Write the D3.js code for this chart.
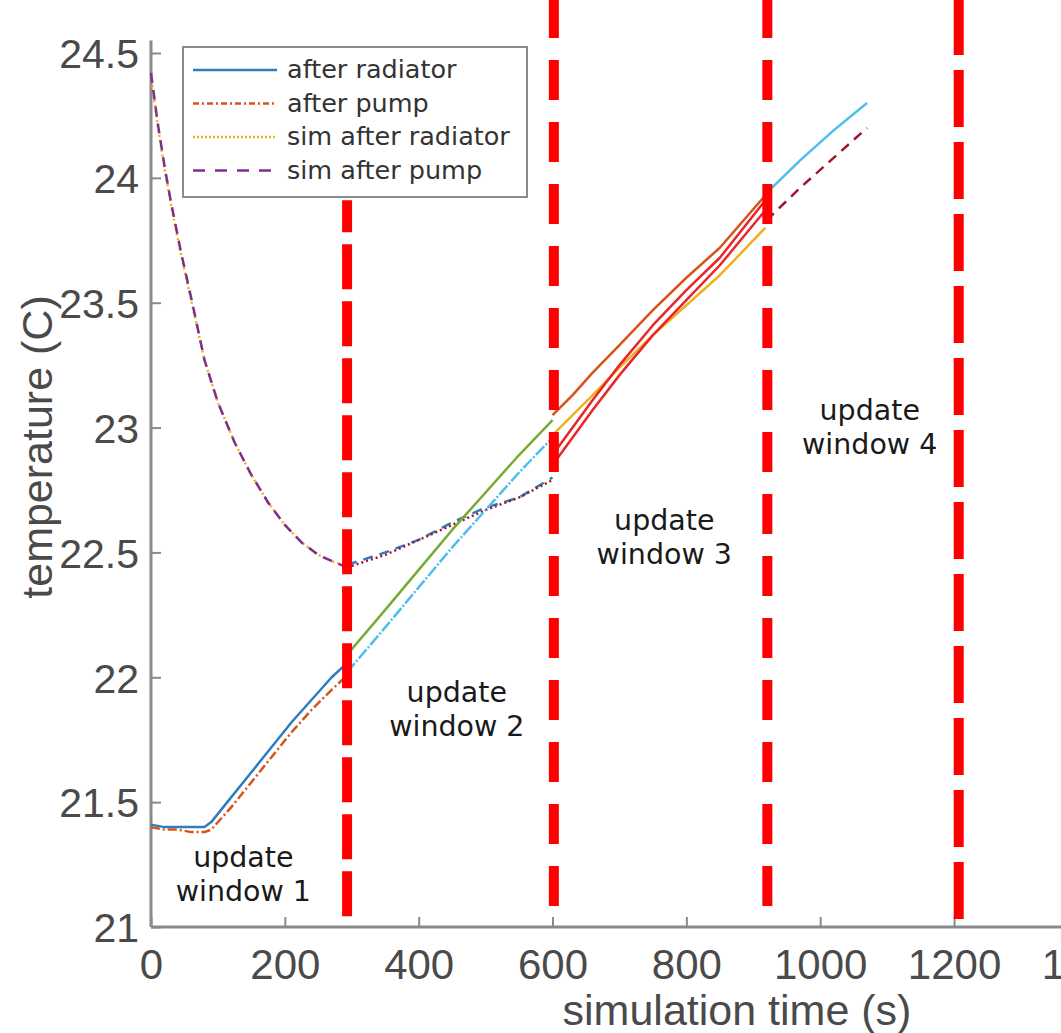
<!DOCTYPE html>
<html><head><meta charset="utf-8">
<script src="https://cdn.jsdelivr.net/npm/d3@7"></script>
<style>html,body{margin:0;padding:0;background:#fff;}svg{display:block;}</style>
</head><body>
<svg id="chart" width="1061" height="1033"></svg>
<script>
// ---- data ----
const xTicks = [0, 200, 400, 600, 800, 1000, 1200, 1400];
const yTicks = [21, 21.5, 22, 22.5, 23, 23.5, 24, 24.5];
const yTickLabels = ["21", "21.5", "22", "22.5", "23", "23.5", "24", "24.5"];

// window 1 (measured)
const t1 = [0, 20, 40, 60, 80, 90, 120, 150, 180, 210, 240, 270, 290];
const afterRadiator1 = [21.41, 21.40, 21.40, 21.40, 21.40, 21.42, 21.52, 21.62, 21.72, 21.82, 21.91, 22.00, 22.05];
const afterPump1 = [21.40, 21.39, 21.39, 21.38, 21.38, 21.39, 21.48, 21.58, 21.68, 21.78, 21.87, 21.95, 22.00];
// window 1 (simulation)
const tS1 = [0, 10, 20, 30, 45, 60, 80, 100, 125, 150, 175, 200, 225, 250, 275, 293];
const simAfterPump1 = [24.42, 24.22, 24.05, 23.90, 23.70, 23.52, 23.27, 23.10, 22.94, 22.81, 22.70, 22.61, 22.54, 22.49, 22.46, 22.44];
const simAfterRadiator1 = [24.41, 24.21, 24.04, 23.89, 23.69, 23.51, 23.27, 23.10, 22.94, 22.81, 22.70, 22.61, 22.54, 22.49, 22.46, 22.45];

// window 2
const t2 = [293, 350, 400, 450, 500, 550, 600];
const afterRadiator2 = [22.09, 22.27, 22.43, 22.59, 22.74, 22.89, 23.03];
const afterPump2 = [22.02, 22.20, 22.36, 22.52, 22.67, 22.82, 22.96];
const simAfterRadiator2 = [22.44, 22.49, 22.55, 22.61, 22.67, 22.72, 22.79];
const simAfterPump2 = [22.45, 22.50, 22.55, 22.62, 22.68, 22.72, 22.80];

// window 3
const t3 = [600, 630, 660, 700, 750, 800, 850, 918];
const afterRadiator3 = [23.05, 23.13, 23.22, 23.33, 23.47, 23.60, 23.72, 23.93];
const afterPump3 = [22.97, 23.05, 23.13, 23.24, 23.37, 23.49, 23.61, 23.80];
const simAfterRadiator3 = [22.89, 23.00, 23.11, 23.25, 23.41, 23.55, 23.68, 23.91];
const simAfterPump3 = [22.85, 22.96, 23.07, 23.21, 23.37, 23.51, 23.65, 23.87];

// window 4
const t4 = [920, 970, 1020, 1070];
const afterRadiator4 = [23.94, 24.07, 24.19, 24.30];
const afterPump4 = [23.83, 23.96, 24.08, 24.20];

// update window boundaries
const windowTimes = [293, 602, 921, 1207];
const windowTop = [23.91, 24.72, 24.72, 24.72];
const windowBottom = [21.0, 21.0, 21.04, 21.0];

const legendLabels = ["after radiator", "after pump", "sim after radiator", "sim after pump"];
const windowLabels = [["update", "window 1"], ["update", "window 2"], ["update", "window 3"], ["update", "window 4"]];
const windowLabelPos = [[138, 21.24], [457, 21.90], [767, 22.59], [1074, 23.03]];

// ---- drawing ----
const svg = d3.select("#chart");
const x = d3.scaleLinear().domain([0, 1400]).range([151, 151 + 1400 * 0.6692]);
const y = d3.scaleLinear().domain([21, 24.55]).range([927, 40.5]);

const C = {blue:"#2f7dbd", orange:"#D95319", yellow:"#EDB120", purple:"#7E2F8E",
           green:"#77AC30", cyan:"#4DBEEE", dred:"#A2142F", red:"#e8262a"};

// axes
const axisColor = "#8a8a8a";
const tickFont = "'Liberation Sans', Arial, sans-serif";
const xAxis = d3.axisBottom(x).tickValues(xTicks).tickSize(-10).tickPadding(22).tickFormat(d3.format("d"));
const gx = svg.append("g").attr("transform", "translate(0,927)").call(xAxis);
const yAxis = d3.axisLeft(y).tickValues(yTicks).tickSize(-10).tickPadding(12).tickFormat((d,i)=>yTickLabels[i]);
const gy = svg.append("g").attr("transform", "translate(151,0)").call(yAxis);
[gx, gy].forEach(g => {
  g.select(".domain").attr("stroke", axisColor).attr("stroke-width", 3);
  g.selectAll(".tick line").attr("stroke", axisColor).attr("stroke-width", 2);
  g.selectAll(".tick text").attr("fill", "#4a4a4a").style("font-family", tickFont).style("font-size", "42px");
});
gy.selectAll(".tick text").style("font-size", "41px").attr("dy", "0.36em");
gy.select(".domain").attr("d", `M0,${y(21)}V${y(24.55)}`);
gx.select(".domain").attr("d", `M${x(0)},0H${x(1400)}`);

svg.append("text").attr("x", 737).attr("y", 1025).attr("text-anchor", "middle")
  .style("font-family", tickFont).style("font-size", "43px").attr("fill", "#4a4a4a")
  .text("simulation time (s)");
svg.append("text").attr("transform", "translate(52,447) rotate(-90)").attr("text-anchor", "middle")
  .style("font-family", tickFont).style("font-size", "43px").attr("fill", "#4a4a4a")
  .text("temperature (C)");

const line = d3.line().x(d => x(d[0])).y(d => y(d[1]));
function series(ts, vs, color, dash, width) {
  svg.append("path").datum(ts.map((t,i)=>[t, vs[i]]))
    .attr("d", line).attr("fill", "none").attr("stroke", color)
    .attr("stroke-width", width || 2.5).attr("stroke-dasharray", dash || null)
    .attr("stroke-linejoin", "round");
}
const DASHDOT = "9,3,2,3", DOT = "2,3", DASH = "10,7";
// window 1
series(tS1, simAfterRadiator1, C.yellow, DOT, 2.5);
series(tS1, simAfterPump1, C.purple, DASH, 2.5);
series(t1, afterRadiator1, C.blue, null, 2.5);
series(t1, afterPump1, C.orange, DASHDOT, 2.5);
// window 2
series(t2, simAfterPump2, C.blue, DASH, 2.5);
series(t2, simAfterRadiator2, C.dred, DOT, 2.5);
series(t2, afterRadiator2, C.green, null, 2.5);
series(t2, afterPump2, C.cyan, "12,2,2,2", 2.5);
// window 3
series(t3, afterPump3, C.yellow, null, 2.5);
series(t3, afterRadiator3, C.orange, null, 2.5);
series(t3, simAfterRadiator3, C.red, null, 2.5);
series(t3, simAfterPump3, C.red, null, 2.5);
// window 4
series(t4, afterRadiator4, C.cyan, null, 2.5);
series(t4, afterPump4, C.dred, DASH, 2.5);

// update window boundaries
const dashes = [["45,12", 13], ["40,22", 0], ["40,22", 0], ["57,15", 0]];
windowTimes.forEach((t, i) => {
  svg.append("line").attr("x1", x(t)).attr("x2", x(t))
    .attr("y1", y(windowTop[i])).attr("y2", y(windowBottom[i]))
    .attr("stroke", "#ff0000").attr("stroke-width", 10)
    .attr("stroke-dasharray", dashes[i][0]).attr("stroke-dashoffset", dashes[i][1]);
});

// window labels
windowLabels.forEach((lines, i) => {
  const tx = svg.append("text").attr("text-anchor", "middle")
    .style("font-family", "'DejaVu Sans', Verdana, sans-serif").style("font-size", "28.5px").attr("fill", "#1a1a1a");
  lines.forEach((s, j) => tx.append("tspan").attr("x", x(windowLabelPos[i][0])).attr("y", y(windowLabelPos[i][1]) + j * 34).text(s));
});

// legend
const lg = svg.append("g");
lg.append("rect").attr("x", 183).attr("y", 47).attr("width", 344).attr("height", 150)
  .attr("fill", "#fff").attr("stroke", "#8a8a8a").attr("stroke-width", 2);
const legStyles = [[C.blue, null], [C.orange, "6,3,2,3"], [C.yellow, "2,2"], [C.purple, "12,10"]];
legendLabels.forEach((s, i) => {
  const yy = 70 + i * 33.5;
  lg.append("line").attr("x1", 193).attr("x2", 277).attr("y1", yy).attr("y2", yy)
    .attr("stroke", legStyles[i][0]).attr("stroke-width", 2.5).attr("stroke-dasharray", legStyles[i][1]);
  lg.append("text").attr("x", 287).attr("y", yy + 8)
    .style("font-family", "'DejaVu Sans', Verdana, sans-serif").style("font-size", "25.5px").attr("fill", "#333")
    .text(s);
});
</script>
</body></html>
